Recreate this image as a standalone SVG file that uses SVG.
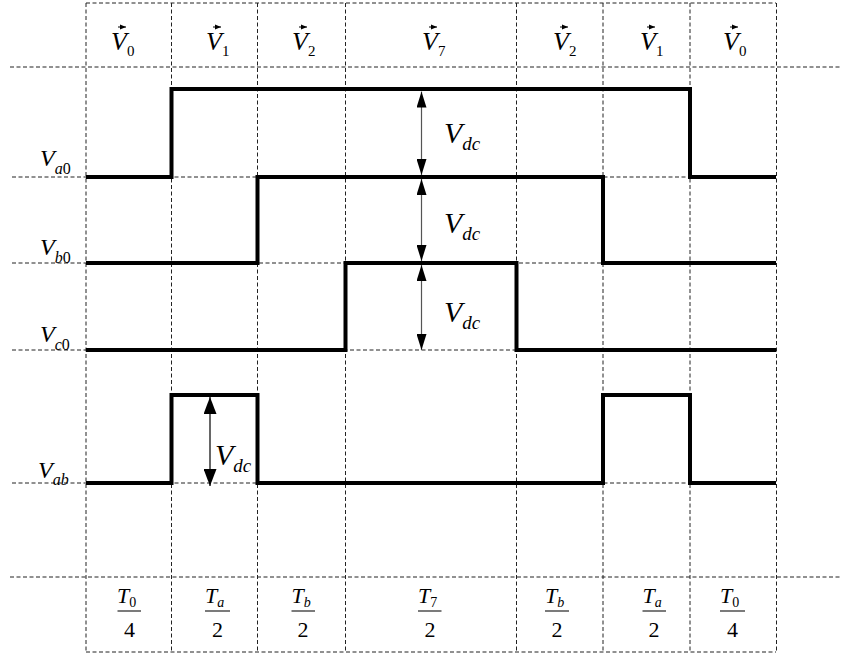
<svg xmlns="http://www.w3.org/2000/svg" width="847" height="657" viewBox="0 0 847 657">
<style>
.grid{stroke:#222;stroke-width:1;stroke-dasharray:4,2.5;fill:none}
.sig{stroke:#000;stroke-width:4;fill:none;stroke-linejoin:miter}
.dim{stroke:#555;stroke-width:1.2;fill:none}
.dimb{stroke:#000;stroke-width:1.2;fill:none}
text{font-family:'Liberation Serif','Times New Roman','DejaVu Serif',serif;fill:#000}
.i{font-style:italic}
.n{font-style:normal}
.va{stroke:#000;stroke-width:1;fill:none}
.frac{stroke:#333;stroke-width:1.3}
</style>
<defs>
<marker id="ahs" viewBox="0 0 16 10" refX="16" refY="5" markerWidth="16" markerHeight="10" markerUnits="userSpaceOnUse" orient="auto"><path d="M0,0 L16,5 L0,10 Z" fill="#000"/></marker>
<marker id="ahb" viewBox="0 0 17 13" refX="17" refY="6.5" markerWidth="17" markerHeight="13" markerUnits="userSpaceOnUse" orient="auto"><path d="M0,0 L17,6.5 L0,13 Z" fill="#000"/></marker>
<marker id="vec" viewBox="0 0 6 6" refX="6" refY="3" markerWidth="6" markerHeight="6" markerUnits="userSpaceOnUse" orient="auto"><path d="M0,0.5 L6,3 L0,5.5 Z" fill="#000"/></marker>
</defs>

<g id="grid">
<line class="grid" x1="86" y1="3" x2="776" y2="3"/>
<line class="grid" x1="10" y1="67" x2="840" y2="67"/>
<line class="grid" x1="12" y1="177" x2="776" y2="177"/>
<line class="grid" x1="12" y1="263" x2="776" y2="263"/>
<line class="grid" x1="12" y1="350" x2="776" y2="350"/>
<line class="grid" x1="12" y1="483" x2="776" y2="483"/>
<line class="grid" x1="10" y1="577" x2="840" y2="577"/>
<line class="grid" x1="86" y1="652" x2="776" y2="652"/>
<line class="grid" x1="86" y1="3" x2="86" y2="652"/>
<line class="grid" x1="171.5" y1="3" x2="171.5" y2="652"/>
<line class="grid" x1="257.5" y1="3" x2="257.5" y2="652"/>
<line class="grid" x1="345.5" y1="3" x2="345.5" y2="652"/>
<line class="grid" x1="516.5" y1="3" x2="516.5" y2="652"/>
<line class="grid" x1="603" y1="3" x2="603" y2="652"/>
<line class="grid" x1="690" y1="3" x2="690" y2="652"/>
<line class="grid" x1="776.5" y1="3" x2="776.5" y2="652"/>
</g>

<g id="signals">
<path id="sig-va0" class="sig" d="M86,177 H171.5 V89 H690 V177 H776"/>
<path id="sig-vb0" class="sig" d="M86,263 H257.5 V177 H603 V263 H776"/>
<path id="sig-vc0" class="sig" d="M86,350 H345.5 V263 H516.5 V350 H776"/>
<path id="sig-vab" class="sig" d="M86,483 H171.5 V395 H257.5 V483 H603 V395 H690 V483 H776"/>
</g>

<g id="connectors">
<line class="dim" x1="421.5" y1="132" x2="421.5" y2="91.5" marker-end="url(#ahs)"/>
<line class="dim" x1="421.5" y1="132" x2="421.5" y2="175" marker-end="url(#ahs)"/>
<line class="dim" x1="421.5" y1="220" x2="421.5" y2="179" marker-end="url(#ahs)"/>
<line class="dim" x1="421.5" y1="220" x2="421.5" y2="261" marker-end="url(#ahs)"/>
<line class="dim" x1="421.5" y1="306" x2="421.5" y2="265" marker-end="url(#ahs)"/>
<line class="dim" x1="421.5" y1="306" x2="421.5" y2="350" marker-end="url(#ahs)"/>
<line class="dimb" x1="210" y1="440" x2="210" y2="397" marker-end="url(#ahb)"/>
<line class="dimb" x1="210" y1="440" x2="210" y2="486" marker-end="url(#ahb)"/>
</g>

<g id="vector-labels" font-family="Liberation Serif, serif">
<g id="lbl-v0a"><text class="i" x="111" y="50" font-size="26">V<tspan class="n" dy="6" font-size="15">0</tspan></text><line class="va" x1="118" y1="27" x2="126" y2="27" marker-end="url(#vec)"/></g>
<g id="lbl-v1a"><text class="i" x="206" y="50" font-size="26">V<tspan class="n" dy="6" font-size="15">1</tspan></text><line class="va" x1="213" y1="27" x2="221" y2="27" marker-end="url(#vec)"/></g>
<g id="lbl-v2a"><text class="i" x="292" y="50" font-size="26">V<tspan class="n" dy="6" font-size="15">2</tspan></text><line class="va" x1="299" y1="27" x2="307" y2="27" marker-end="url(#vec)"/></g>
<g id="lbl-v7"><text class="i" x="422" y="50" font-size="26">V<tspan class="n" dy="6" font-size="15">7</tspan></text><line class="va" x1="429" y1="27" x2="437" y2="27" marker-end="url(#vec)"/></g>
<g id="lbl-v2b"><text class="i" x="553" y="50" font-size="26">V<tspan class="n" dy="6" font-size="15">2</tspan></text><line class="va" x1="560" y1="27" x2="568" y2="27" marker-end="url(#vec)"/></g>
<g id="lbl-v1b"><text class="i" x="640" y="50" font-size="26">V<tspan class="n" dy="6" font-size="15">1</tspan></text><line class="va" x1="647" y1="27" x2="655" y2="27" marker-end="url(#vec)"/></g>
<g id="lbl-v0b"><text class="i" x="723" y="50" font-size="26">V<tspan class="n" dy="6" font-size="15">0</tspan></text><line class="va" x1="730" y1="27" x2="738" y2="27" marker-end="url(#vec)"/></g>
</g>

<g id="signal-labels" font-family="Liberation Serif, serif">
<text id="lbl-va0" class="i" x="40" y="166" font-size="24">V<tspan dy="8" font-size="16">a</tspan><tspan class="n" font-size="16">0</tspan></text>
<text id="lbl-vb0" class="i" x="40" y="255" font-size="24">V<tspan dy="8" font-size="16">b</tspan><tspan class="n" font-size="16">0</tspan></text>
<text id="lbl-vc0" class="i" x="40" y="342" font-size="24">V<tspan dy="8" font-size="16">c</tspan><tspan class="n" font-size="16">0</tspan></text>
<text id="lbl-vab" class="i" x="38" y="478" font-size="24">V<tspan dy="7" font-size="16">ab</tspan></text>
</g>

<g id="vdc-labels" font-family="Liberation Serif, serif">
<text class="i" x="444" y="143" font-size="30">V<tspan dy="7" font-size="19">dc</tspan></text>
<text class="i" x="444" y="233" font-size="30">V<tspan dy="7" font-size="19">dc</tspan></text>
<text class="i" x="444" y="322" font-size="30">V<tspan dy="7" font-size="19">dc</tspan></text>
<text class="i" x="215" y="465" font-size="30">V<tspan dy="7" font-size="19">dc</tspan></text>
</g>

<g id="time-labels" font-family="Liberation Serif, serif">
<g id="f1"><text class="i" x="117" y="603" font-size="22">T<tspan class="n" dy="4" font-size="14">0</tspan></text><line class="frac" x1="117.5" y1="611" x2="141" y2="611"/><text x="129.5" y="637" font-size="22" text-anchor="middle">4</text></g>
<g id="f2"><text class="i" x="205" y="603" font-size="22">T<tspan dy="4" font-size="14">a</tspan></text><line class="frac" x1="205" y1="611" x2="230" y2="611"/><text x="217.5" y="637" font-size="22" text-anchor="middle">2</text></g>
<g id="f3"><text class="i" x="291.5" y="603" font-size="22">T<tspan dy="4" font-size="14">b</tspan></text><line class="frac" x1="291.5" y1="611" x2="315" y2="611"/><text x="303" y="637" font-size="22" text-anchor="middle">2</text></g>
<g id="f4"><text class="i" x="418" y="603" font-size="22">T<tspan class="n" dy="4" font-size="14">7</tspan></text><line class="frac" x1="418" y1="611" x2="441.5" y2="611"/><text x="430" y="637" font-size="22" text-anchor="middle">2</text></g>
<g id="f5"><text class="i" x="545" y="603" font-size="22">T<tspan dy="4" font-size="14">b</tspan></text><line class="frac" x1="545" y1="611" x2="569" y2="611"/><text x="557" y="637" font-size="22" text-anchor="middle">2</text></g>
<g id="f6"><text class="i" x="642.5" y="603" font-size="22">T<tspan dy="4" font-size="14">a</tspan></text><line class="frac" x1="642.5" y1="611" x2="666" y2="611"/><text x="654" y="637" font-size="22" text-anchor="middle">2</text></g>
<g id="f7"><text class="i" x="720" y="603" font-size="22">T<tspan class="n" dy="4" font-size="14">0</tspan></text><line class="frac" x1="720" y1="611" x2="745" y2="611"/><text x="732.5" y="637" font-size="22" text-anchor="middle">4</text></g>
</g>
</svg>
